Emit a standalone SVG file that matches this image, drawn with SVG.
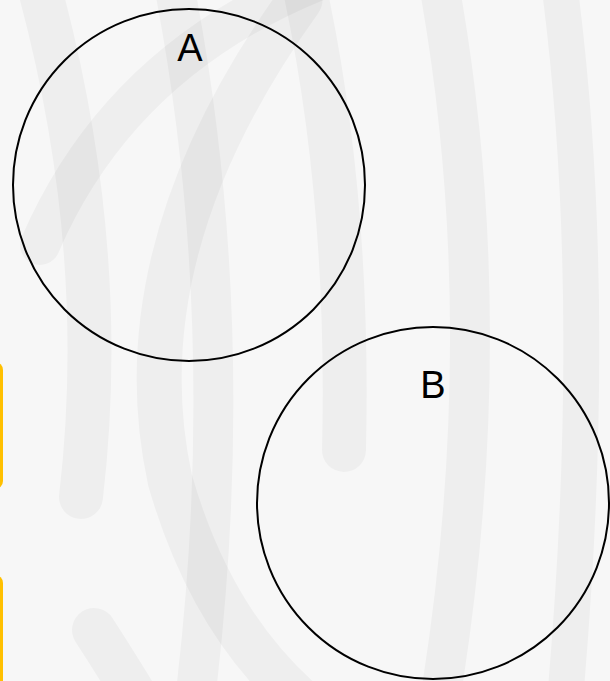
<svg xmlns="http://www.w3.org/2000/svg" width="610" height="681" viewBox="0 0 610 681">
<style>
.bg{fill:none;stroke:#000;stroke-opacity:0.035;stroke-linecap:round}
.set{fill:none;stroke:#000;stroke-width:2}
.lbl{font-family:"Liberation Sans",Arial,sans-serif;font-size:38px;fill:#000;text-anchor:middle}
</style>
<rect width="610" height="681" fill="#f7f7f7"/>
<g id="background">
<path class="bg" stroke-width="44" d="M40 -10 Q 110 250 81 497"/>
<path class="bg" stroke-width="40" d="M40 245 Q 120 60 320 -20"/>
<path class="bg" stroke-width="45" d="M300 0 Q 120 250 170 480 Q 210 620 300 700"/>
<path class="bg" stroke-width="40" d="M175 -10 Q 240 330 195 700"/>
<path class="bg" stroke-width="44" d="M305 -10 Q 350 200 344 450"/>
<path class="bg" stroke-width="40" d="M440 -10 Q 500 330 440 700"/>
<path class="bg" stroke-width="36" d="M560 -10 Q 600 300 565 700"/>
<path class="bg" stroke-width="44" d="M94 630 Q 120 670 150 720"/>
</g>
<g id="tabs">
<rect x="-20" y="362" width="23" height="127" rx="8" fill="#ffc000"/>
<rect x="-20" y="575" width="23" height="130" rx="8" fill="#ffc000"/>
</g>
<g id="setA">
<circle class="set" cx="189" cy="185" r="176"/>
<text class="lbl" x="190" y="61">A</text>
</g>
<g id="setB">
<circle class="set" cx="433" cy="503" r="176"/>
<text class="lbl" x="433" y="398">B</text>
</g>
<g id="connectors"></g>
</svg>
